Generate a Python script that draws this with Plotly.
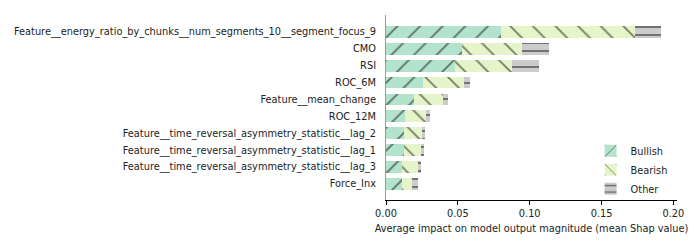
import plotly.graph_objects as go

features = [
    "Force_Inx",
    "Feature__time_reversal_asymmetry_statistic__lag_3",
    "Feature__time_reversal_asymmetry_statistic__lag_1",
    "Feature__time_reversal_asymmetry_statistic__lag_2",
    "ROC_12M",
    "Feature__mean_change",
    "ROC_6M",
    "RSI",
    "CMO",
    "Feature__energy_ratio_by_chunks__num_segments_10__segment_focus_9",
]
bullish = [0.0109, 0.0109, 0.0125, 0.0125, 0.0132, 0.0194, 0.0255, 0.0480, 0.0526, 0.0800]
bearish = [0.0069, 0.0111, 0.0116, 0.0127, 0.0143, 0.0200, 0.0285, 0.0400, 0.0423, 0.0930]
other = [0.0042, 0.0023, 0.0025, 0.0019, 0.0031, 0.0036, 0.0043, 0.0183, 0.0183, 0.0187]

ypos = list(range(len(features)))

fig = go.Figure()
series = [
    ("Bullish", bullish, "#b3e2cd", "/", 16, 0.11),
    ("Bearish", bearish, "#e6f5c9", "\\", 16, 0.11),
    ("Other", other, "#cccccc", "-", 8, 0.22),
]
for name, vals, col, shape, sz, sol in series:
    fig.add_trace(go.Bar(
        y=ypos, x=vals, name=name, orientation="h", width=0.7,
        marker=dict(color=col, line=dict(width=0),
                    pattern=dict(shape=shape, fgcolor="black", bgcolor=col,
                                 size=sz, solidity=sol, fillmode="overlay")),
    ))

# page body has an 8px margin, so the figure is drawn 8px smaller with offsets accounted for
fig.update_layout(
    barmode="stack",
    width=692, height=242,
    margin=dict(l=378, r=23, t=7, b=50),
    paper_bgcolor="white", plot_bgcolor="white",
    font=dict(family="DejaVu Sans", size=9.8, color="#222222"),
    showlegend=True,
    legend=dict(x=0.703, y=0.344, xanchor="left", yanchor="top",
                bgcolor="rgba(0,0,0,0)", font=dict(size=9.8),
                traceorder="normal"),
    xaxis=dict(range=[0, 0.2025], tickvals=[0, 0.05, 0.1, 0.15, 0.2],
               ticktext=["0.00", "0.05", "0.10", "0.15", "0.20"],
               showgrid=False, zeroline=False, showline=True, linecolor="black",
               linewidth=1, ticks="outside", ticklen=4, tickcolor="black",
               title=dict(text="Average impact on model output magnitude (mean Shap value)",
                          font=dict(size=9.8), standoff=7)),
    yaxis=dict(range=[-0.95, 10.0], tickvals=ypos, ticktext=features,
               showgrid=False, zeroline=False, showline=True, linecolor="#999999",
               linewidth=1, ticks="", ticklen=0, ticklabelstandoff=7,
               automargin=False),
)

fig.write_html("out.html")
